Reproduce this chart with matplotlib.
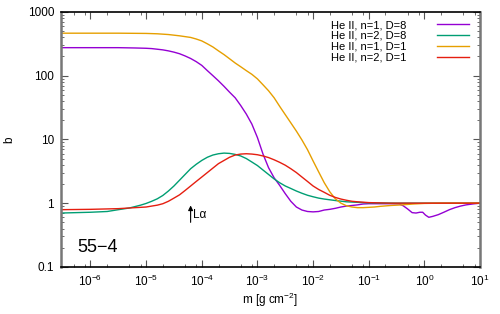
import matplotlib
matplotlib.use('Agg')
import matplotlib.pyplot as plt
import matplotlib.ticker as ticker
import numpy as np

plt.rcParams['font.family'] = ['Liberation Sans', 'DejaVu Sans']
plt.rcParams['mathtext.fontset'] = 'custom'
plt.rcParams['mathtext.rm'] = 'Liberation Sans'
plt.rcParams['mathtext.it'] = 'Liberation Sans:italic'

# Departure coefficients
# (x given as log10 of the column mass, b as read on the log axis)

logm_n1_d8 = [-6.53, -5.5, -5.2, -5.0, -4.9, -4.8, -4.7, -4.6, -4.5, -4.4, -4.3, -4.2, -4.1,
              -4.0, -3.9, -3.8, -3.7, -3.6, -3.5, -3.4, -3.3, -3.2, -3.1, -3.0, -2.9, -2.8,
              -2.7, -2.6, -2.5, -2.4, -2.3, -2.2, -2.1, -2.0, -1.9, -1.8, -1.7, -1.6, -1.5,
              -1.4, -1.3, -1.2, -1.1, -1.0, -0.8, -0.6, -0.45, -0.38, -0.3, -0.22, -0.15,
              -0.08, -0.03, 0.02, 0.08, 0.15, 0.25, 0.35, 0.45, 0.55, 0.65, 0.75, 0.9, 1.0]
b_n1_d8 = [275, 275, 272, 269, 266, 260, 254, 245, 234, 221, 204, 186, 166,
           145, 120, 100, 83, 68, 55, 45, 34, 25, 17.4, 10.7, 5.9, 3.6,
           2.5, 1.9, 1.41, 1.07, 0.87, 0.78, 0.74, 0.73, 0.74, 0.78, 0.80, 0.83, 0.87,
           0.90, 0.92, 0.94, 0.97, 0.98, 0.98, 0.98, 0.97, 0.91, 0.81, 0.71, 0.70,
           0.72, 0.72, 0.65, 0.60, 0.62, 0.66, 0.72, 0.79, 0.85, 0.90, 0.94, 0.98, 1.0]

logm_n2_d8 = [-6.53, -6.0, -5.7, -5.5, -5.3, -5.1, -5.0, -4.9, -4.8, -4.7, -4.6, -4.5, -4.4,
              -4.3, -4.2, -4.1, -4.0, -3.9, -3.8, -3.7, -3.6, -3.5, -3.4, -3.3, -3.2, -3.1,
              -3.0, -2.9, -2.8, -2.7, -2.6, -2.5, -2.4, -2.3, -2.2, -2.1, -2.0, -1.9, -1.8,
              -1.6, -1.4, -1.2, -1.0, -0.5, 1.0]
b_n2_d8 = [0.70, 0.72, 0.74, 0.79, 0.84, 0.93, 0.99, 1.07, 1.17, 1.32, 1.55, 1.86, 2.29,
           2.82, 3.47, 4.07, 4.68, 5.25, 5.69, 5.96, 6.10, 6.03, 5.82, 5.50, 5.01, 4.42,
           3.89, 3.31, 2.82, 2.40, 2.09, 1.86, 1.70, 1.55, 1.43, 1.33, 1.26, 1.20, 1.16,
           1.10, 1.05, 1.03, 1.01, 1.0, 1.0]

logm_n1_d1 = [-6.53, -5.5, -5.0, -4.8, -4.6, -4.4, -4.2, -4.1, -4.0, -3.9, -3.8, -3.7, -3.6,
              -3.5, -3.4, -3.3, -3.2, -3.1, -3.0, -2.9, -2.8, -2.7, -2.6, -2.5, -2.4, -2.3,
              -2.2, -2.1, -2.0, -1.9, -1.8, -1.7, -1.6, -1.5, -1.4, -1.3, -1.2, -1.1, -1.0,
              -0.9, -0.8, -0.6, -0.4, -0.2, 0.0, 0.3, 1.0]
b_n1_d1 = [464, 464, 460, 454, 442, 422, 398, 376, 351, 316, 282, 245, 214,
           184, 158, 138, 120, 105, 89, 72, 58, 45, 33, 24.5, 18.2, 13.5,
           9.8, 6.9, 4.6, 3.1, 2.1, 1.51, 1.17, 1.0, 0.91, 0.87, 0.85, 0.85, 0.86,
           0.87, 0.89, 0.92, 0.94, 0.97, 0.99, 1.0, 1.0]

logm_n2_d1 = [-6.53, -6.0, -5.5, -5.2, -5.0, -4.9, -4.8, -4.7, -4.6, -4.5, -4.4, -4.3, -4.2,
              -4.1, -4.0, -3.9, -3.8, -3.7, -3.6, -3.5, -3.4, -3.3, -3.2, -3.1, -3.0, -2.9,
              -2.8, -2.7, -2.6, -2.5, -2.4, -2.3, -2.2, -2.1, -2.0, -1.9, -1.8, -1.7, -1.6,
              -1.5, -1.4, -1.3, -1.2, -1.0, -0.6, 1.0]
b_n2_d1 = [0.79, 0.80, 0.82, 0.85, 0.87, 0.90, 0.93, 0.98, 1.07, 1.20, 1.35, 1.58, 1.86,
           2.19, 2.57, 3.02, 3.55, 4.17, 4.68, 5.25, 5.69, 5.89, 5.96, 5.89, 5.75, 5.50,
           5.19, 4.79, 4.37, 3.94, 3.47, 3.02, 2.57, 2.19, 1.86, 1.64, 1.48, 1.33, 1.23,
           1.16, 1.11, 1.07, 1.05, 1.02, 1.0, 1.0]

series = [
    (logm_n1_d8, b_n1_d8, 'He II, n=1, D=8', '#9400d3'),
    (logm_n2_d8, b_n2_d8, 'He II, n=2, D=8', '#009e73'),
    (logm_n1_d1, b_n1_d1, 'He II, n=1, D=1', '#e69f00'),
    (logm_n2_d1, b_n2_d1, 'He II, n=2, D=1', '#e51e10'),
]

xticks = [1e-6, 1e-5, 1e-4, 1e-3, 1e-2, 1e-1, 1e0, 1e1]
xticklabels = [r'$10^{-6}$', r'$10^{-5}$', r'$10^{-4}$', r'$10^{-3}$',
               r'$10^{-2}$', r'$10^{-1}$', r'$10^{0}$', r'$10^{1}$']
yticks = [0.1, 1, 10, 100, 1000]
yticklabels = ['0.1', '1', '10', '100', '1000']

lyman_alpha_m = 6.3e-5

fig = plt.figure(figsize=(5.0, 3.14), dpi=100)
ax = fig.add_axes([0.122, 0.150, 0.838, 0.812])

for logm, b, label, color in series:
    ax.plot(10.0 ** np.array(logm), b, color=color, lw=1.0, label=label)

ax.set_xscale('log')
ax.set_yscale('log')
ax.set_xlim(10 ** -6.53, 10)
ax.set_ylim(0.1, 1000)

ax.xaxis.set_major_locator(ticker.FixedLocator(xticks))
ax.xaxis.set_major_formatter(ticker.FixedFormatter(xticklabels))
ax.xaxis.set_minor_locator(ticker.LogLocator(base=10, subs=(2, 5, 8), numticks=20))
ax.xaxis.set_minor_formatter(ticker.NullFormatter())
ax.yaxis.set_major_locator(ticker.FixedLocator(yticks))
ax.yaxis.set_major_formatter(ticker.FixedFormatter(yticklabels))
ax.yaxis.set_minor_locator(ticker.LogLocator(base=10, subs=np.arange(2, 10), numticks=20))
ax.yaxis.set_minor_formatter(ticker.NullFormatter())

ax.tick_params(which='both', direction='in', top=True, right=True, labelsize=8.5, pad=5)
ax.tick_params(which='major', length=5, width=0.8, color='#555555')
ax.tick_params(which='minor', length=2.5, width=0.6, color='#555555')

for side in ['top', 'bottom']:
    ax.spines[side].set_color('black')
    ax.spines[side].set_linewidth(1.2)
for side in ['left', 'right']:
    ax.spines[side].set_color('#777777')
    ax.spines[side].set_linewidth(1.8)

ax.set_xlabel(r'm [g cm$^{-2}$]', fontsize=8.5, labelpad=1)
ax.set_ylabel('b', fontsize=8.5)
ax.yaxis.set_label_coords(-0.108, 0.5)

ax.annotate('', xy=(lyman_alpha_m, 0.92), xytext=(lyman_alpha_m, 0.50),
            arrowprops=dict(arrowstyle='-|>', color='black', lw=0.8,
                            mutation_scale=7, shrinkA=0, shrinkB=0))
ax.text(lyman_alpha_m * 1.12, 0.66, 'L\u03b1', fontsize=8.5, va='center', ha='left')

ax.text(0.04, 0.078, '55\u22124', transform=ax.transAxes, fontsize=13, ha='left', va='center')

leg = ax.legend(loc='upper right', bbox_to_anchor=(0.995, 1.003), frameon=False,
                fontsize=8, markerfirst=False, handlelength=2.9, handletextpad=2.7,
                labelspacing=0.08, borderpad=0.3)

fig.savefig('out.png', dpi=100)
